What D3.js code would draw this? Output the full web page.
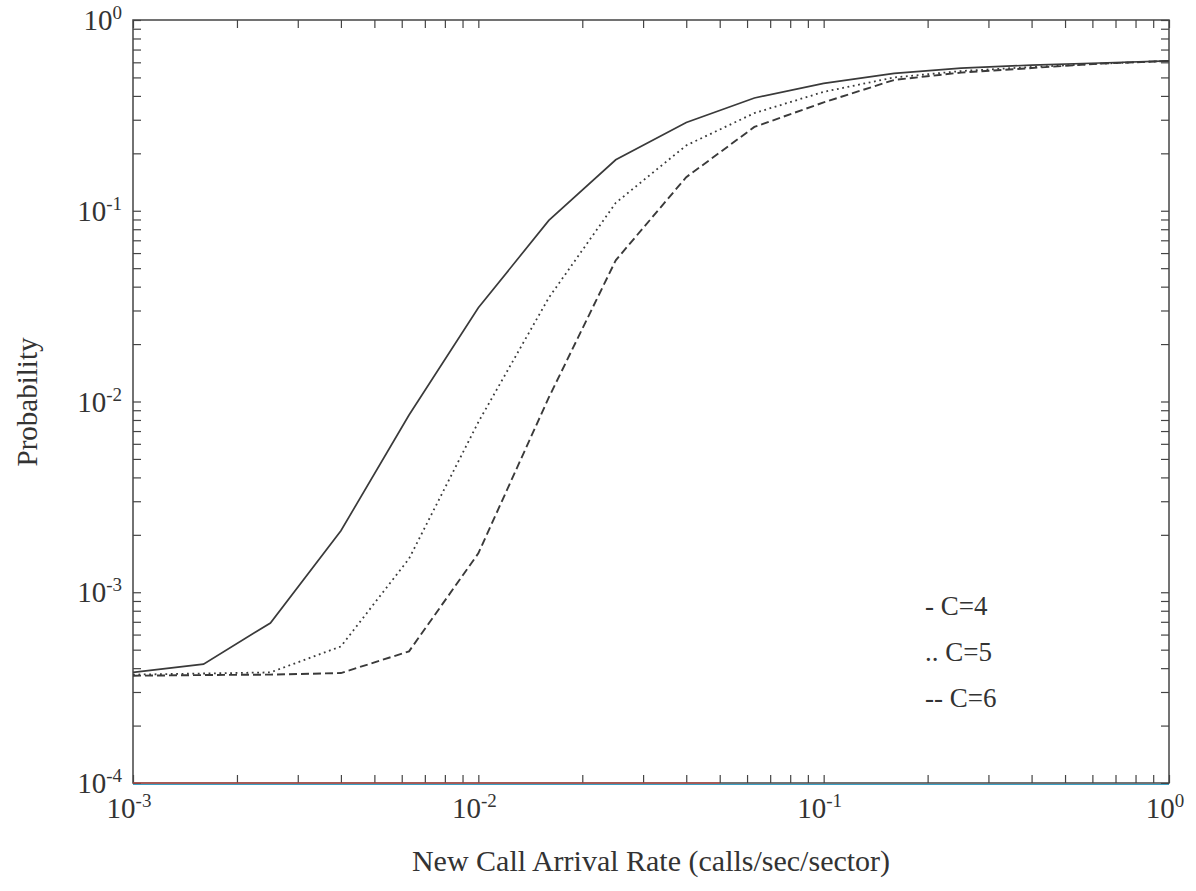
<!DOCTYPE html>
<html>
<head>
<meta charset="utf-8">
<script src="https://cdn.jsdelivr.net/npm/d3@7"></script>
<style>
  body { margin: 0; background: #fff; }
  text { font-family: "Liberation Serif", "DejaVu Serif", serif; fill: #333; }
</style>
</head>
<body>
<div class="chart"></div>
<script>
// arrival rates (calls/sec/sector)
let rates = [0.001, 0.0016, 0.0025, 0.004, 0.0063, 0.01, 0.016, 0.025, 0.04, 0.063, 0.1, 0.16, 0.25, 0.4, 0.63, 1];
let probC4 = [3.8e-4, 4.2e-4, 6.9e-4, 2.1e-3, 8.5e-3, 3.1e-2, 8.9e-2, 0.185, 0.29, 0.39, 0.465, 0.525, 0.56, 0.58, 0.595, 0.61];
let probC5 = [3.7e-4, 3.75e-4, 3.8e-4, 5.2e-4, 1.5e-3, 7.8e-3, 3.5e-2, 0.11, 0.22, 0.325, 0.42, 0.5, 0.54, 0.567, 0.59, 0.61];
let probC6 = [3.65e-4, 3.68e-4, 3.7e-4, 3.77e-4, 4.9e-4, 1.6e-3, 1.05e-2, 0.055, 0.15, 0.275, 0.37, 0.485, 0.53, 0.56, 0.59, 0.61];
let legendLabels = ['- C=4', '.. C=5', '-- C=6'];
let xExps = [-3, -2, -1, 0];
let yExps = [-4, -3, -2, -1, 0];

let width = 1196;
let height = 891;
let plotLeft = 133, plotRight = 1169, plotTop = 20, plotBottom = 783;

let svg = d3.select('.chart')
            .append('svg')
            .attr('width', width)
            .attr('height', height);

let xScale = d3.scaleLog().domain([1e-3, 1]).range([plotLeft, plotRight]);
let yScale = d3.scaleLog().domain([1e-4, 1]).range([plotBottom, plotTop]);

function minorTicks(lo, hi) {
  let t = [];
  for (let e = lo; e < hi; e++) {
    for (let k = 1; k <= 9; k++) t.push(k * Math.pow(10, e));
  }
  t.push(Math.pow(10, hi));
  return t;
}
let xTicks = minorTicks(-3, 0);
let yTicks = minorTicks(-4, 0);

function styleAxis(g) {
  g.select('.domain').remove();
  g.selectAll('line').attr('stroke', '#444').attr('stroke-width', 1.2);
}

svg.append('g').attr('transform', 'translate(0,' + plotBottom + ')')
   .call(d3.axisBottom(xScale).tickValues(xTicks).tickSizeInner(-8).tickSizeOuter(0).tickFormat(''))
   .call(styleAxis);
svg.append('g').attr('transform', 'translate(0,' + plotTop + ')')
   .call(d3.axisTop(xScale).tickValues(xTicks).tickSizeInner(-8).tickSizeOuter(0).tickFormat(''))
   .call(styleAxis);
svg.append('g').attr('transform', 'translate(' + plotLeft + ',0)')
   .call(d3.axisLeft(yScale).tickValues(yTicks).tickSizeInner(-8).tickSizeOuter(0).tickFormat(''))
   .call(styleAxis);
svg.append('g').attr('transform', 'translate(' + plotRight + ',0)')
   .call(d3.axisRight(yScale).tickValues(yTicks).tickSizeInner(-8).tickSizeOuter(0).tickFormat(''))
   .call(styleAxis);

// frame
svg.append('rect')
   .attr('x', plotLeft).attr('y', plotTop)
   .attr('width', plotRight - plotLeft).attr('height', plotBottom - plotTop)
   .attr('fill', 'none').attr('stroke', '#444').attr('stroke-width', 1.5);

// coloured lines along the floor (as in the scan)
svg.append('line')
   .attr('x1', plotLeft).attr('x2', plotRight)
   .attr('y1', yScale(1e-4) + 1.5).attr('y2', yScale(1e-4) + 1.5)
   .attr('stroke', '#3a9fc4').attr('stroke-width', 1.2);
svg.append('line')
   .attr('x1', plotLeft).attr('x2', xScale(0.05))
   .attr('y1', yScale(1e-4)).attr('y2', yScale(1e-4))
   .attr('stroke', '#d8453c').attr('stroke-width', 1.2);

// tick labels with superscript exponents
function powLabel(sel) {
  sel.append('tspan').text('10');
  sel.append('tspan').attr('dy', -11).style('font-size', '19px').text(d => d);
}
svg.selectAll('.xlab')
   .data(xExps).enter().append('text')
   .attr('class', 'xlab')
   .attr('x', d => xScale(Math.pow(10, d)) - 4)
   .attr('y', 818)
   .attr('text-anchor', 'middle')
   .style('font-size', '29px')
   .call(powLabel);
svg.selectAll('.ylab')
   .data(yExps).enter().append('text')
   .attr('class', 'ylab')
   .attr('x', 122)
   .attr('y', d => yScale(Math.pow(10, d)) + 10)
   .attr('text-anchor', 'end')
   .style('font-size', '29px')
   .call(powLabel);

// axis titles
svg.append('text')
   .attr('x', (plotLeft + plotRight) / 2)
   .attr('y', 871)
   .attr('text-anchor', 'middle')
   .style('font-size', '30px')
   .text('New Call Arrival Rate (calls/sec/sector)');
svg.append('text')
   .attr('transform', 'rotate(-90)')
   .attr('x', -402)
   .attr('y', 37)
   .attr('text-anchor', 'middle')
   .style('font-size', '29px')
   .text('Probability');

// curves
let line = d3.line().x(d => xScale(d[0])).y(d => yScale(d[1]));
let series = [
  { vals: probC4, dash: null, w: 1.7 },
  { vals: probC5, dash: '1.8,3.6', w: 1.8 },
  { vals: probC6, dash: '8,4', w: 1.9 }
];
svg.selectAll('.curve')
   .data(series).enter().append('path')
   .attr('class', 'curve')
   .attr('d', s => line(rates.map((r, i) => [r, s.vals[i]])))
   .attr('fill', 'none')
   .attr('stroke', '#3a3a3a')
   .attr('stroke-width', s => s.w)
   .attr('stroke-dasharray', s => s.dash);

// legend
svg.selectAll('.legend')
   .data(legendLabels).enter().append('text')
   .attr('class', 'legend')
   .attr('x', 925)
   .attr('y', (d, i) => 615 + i * 46)
   .style('font-size', '27px')
   .text(d => d);
</script>
</body>
</html>
